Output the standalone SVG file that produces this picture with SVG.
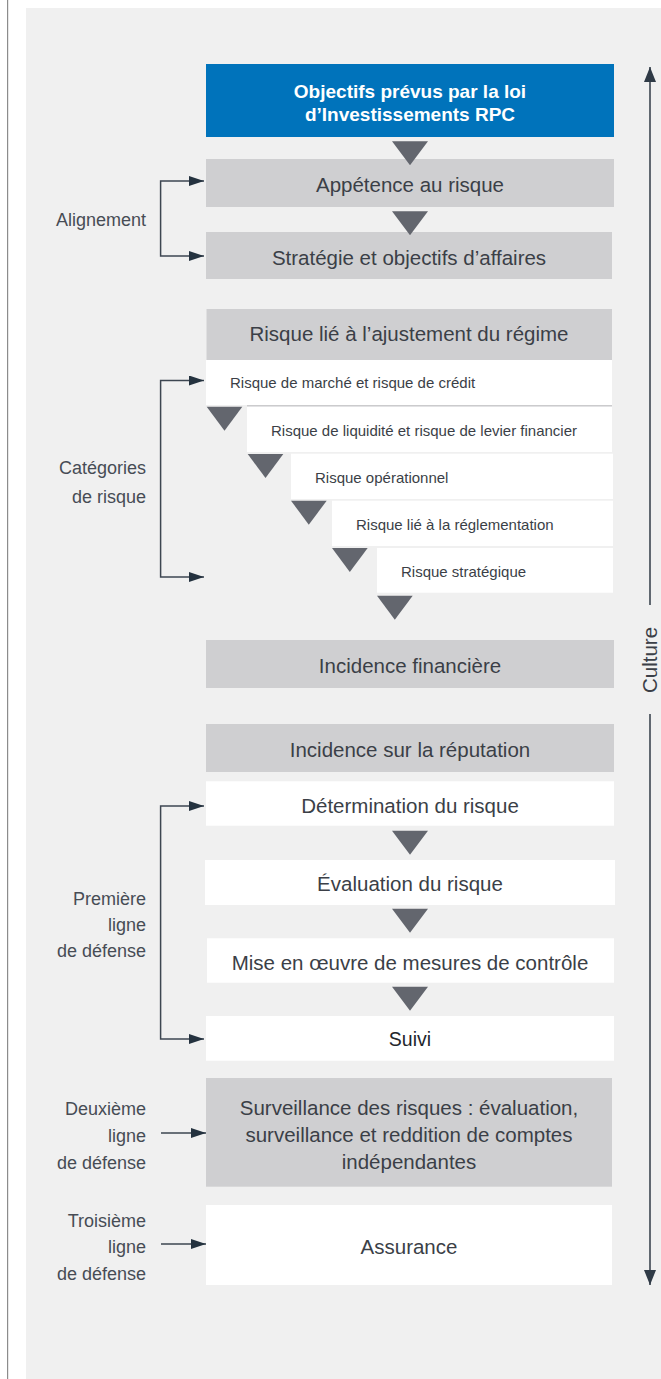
<svg xmlns="http://www.w3.org/2000/svg" width="661" height="1379" viewBox="0 0 661 1379">
<style>
.bg{fill:#f0f0f0}
.box-blue{fill:#0073bb}
.box-gray{fill:#cfcfd1}
.box-white{fill:#ffffff}
.t{font-family:"Liberation Sans",Arial,sans-serif;fill:#3b3f47}
.tb{font-size:20.5px;text-anchor:middle}
.ts{font-size:15px}
.tw{font-family:"Liberation Sans",Arial,sans-serif;font-size:19px;font-weight:bold;fill:#ffffff;text-anchor:middle}
.lab{font-family:"Liberation Sans",Arial,sans-serif;font-size:18px;fill:#474c55;text-anchor:end}
.br{fill:none;stroke:#3d4651;stroke-width:1.5}
.ax{fill:none;stroke:#3d4651;stroke-width:1.6}
.tri{fill:#63666e}
</style>
<defs>
<marker id="ah" markerUnits="userSpaceOnUse" viewBox="0 0 15 10" refX="15" refY="5" markerWidth="15" markerHeight="10" orient="auto-start-reverse">
<path d="M0,0 L15,5 L0,10 Z" fill="#24323f"/>
</marker>
<marker id="ax" markerUnits="userSpaceOnUse" viewBox="0 0 15 12" refX="15" refY="6" markerWidth="15" markerHeight="12" orient="auto">
<path d="M0,0 L15,6 L0,12 Z" fill="#2f3a46"/>
</marker>
</defs>

<line x1="7.6" y1="0" x2="7.6" y2="1379" stroke="#8c8c8c" stroke-width="1.2"/>
<rect class="bg" x="26" y="8" width="635" height="1371"/>

<g id="n-objectifs">
<rect class="box-blue" x="206" y="64" width="408" height="73"/>
<text class="tw" x="410" y="98">Objectifs prévus par la loi</text>
<text class="tw" x="410" y="121">d’Investissements RPC</text>
</g>
<g id="n-appetence">
<rect class="box-gray" x="206" y="159" width="408" height="48"/>
<text class="t tb" x="410" y="192">Appétence au risque</text>
</g>
<g id="n-strategie">
<rect class="box-gray" x="206" y="232" width="406" height="47"/>
<text class="t tb" x="409" y="265">Stratégie et objectifs d’affaires</text>
</g>
<g id="n-ajustement">
<rect class="box-gray" x="206.5" y="309" width="405.5" height="51"/>
<text class="t tb" x="409" y="341">Risque lié à l’ajustement du régime</text>
</g>
<g id="n-marche">
<rect class="box-white" x="206" y="360" width="406" height="45"/>
<text class="t ts" x="230" y="388">Risque de marché et risque de crédit</text>
</g>
<g id="n-liquidite">
<rect x="247" y="405" width="365" height="1.7" fill="#cbcbcd"/>
<rect class="box-white" x="247" y="406.7" width="365" height="45.3"/>
<text class="t ts" x="271" y="436">Risque de liquidité et risque de levier financier</text>
</g>
<g id="n-operationnel">
<rect class="box-white" x="291" y="453.7" width="322" height="45.3"/>
<text class="t ts" x="315" y="482.5">Risque opérationnel</text>
</g>
<g id="n-reglementation">
<rect class="box-white" x="332" y="500.7" width="281" height="45.3"/>
<text class="t ts" x="356" y="530">Risque lié à la réglementation</text>
</g>
<g id="n-strategique">
<rect class="box-white" x="377" y="548" width="236" height="44.7"/>
<text class="t ts" x="401" y="577">Risque stratégique</text>
</g>
<g id="n-incidence-financiere">
<rect class="box-gray" x="206" y="640" width="408" height="48"/>
<text class="t tb" x="410" y="672.5">Incidence financière</text>
</g>
<g id="n-reputation">
<rect class="box-gray" x="206" y="724" width="408" height="48"/>
<text class="t tb" x="410" y="756.5">Incidence sur la réputation</text>
</g>
<g id="n-determination">
<rect class="box-white" x="206" y="781.3" width="408" height="44.4"/>
<text class="t tb" x="410" y="812.5">Détermination du risque</text>
</g>
<g id="n-evaluation">
<rect class="box-white" x="205" y="860" width="410" height="45"/>
<text class="t tb" x="410" y="891">Évaluation du risque</text>
</g>
<g id="n-controle">
<rect class="box-white" x="207" y="938.3" width="407" height="44.4"/>
<text class="t tb" x="410" y="969.5">Mise en œuvre de mesures de contrôle</text>
</g>
<g id="n-suivi">
<rect class="box-white" x="206" y="1016" width="408" height="44.7"/>
<text class="t tb" x="410" y="1046" style="fill:#23262c;font-size:19.5px">Suivi</text>
</g>
<g id="n-surveillance">
<rect class="box-gray" x="206" y="1078" width="406" height="108.7"/>
<text class="t tb" x="409" y="1115">Surveillance des risques : évaluation,</text>
<text class="t tb" x="409" y="1142">surveillance et reddition de comptes</text>
<text class="t tb" x="409" y="1169">indépendantes</text>
</g>
<g id="n-assurance">
<rect class="box-white" x="206" y="1205" width="406" height="80"/>
<text class="t tb" x="409" y="1254">Assurance</text>
</g>

<g id="labels">
<text class="lab" x="146" y="226">Alignement</text>
<text class="lab" x="146" y="474">Catégories</text>
<text class="lab" x="146" y="503">de risque</text>
<text class="lab" x="146" y="904.5">Première</text>
<text class="lab" x="146" y="931">ligne</text>
<text class="lab" x="146" y="957">de défense</text>
<text class="lab" x="146" y="1115">Deuxième</text>
<text class="lab" x="146" y="1141.5">ligne</text>
<text class="lab" x="146" y="1168.5">de défense</text>
<text class="lab" x="146" y="1226.5">Troisième</text>
<text class="lab" x="146" y="1253">ligne</text>
<text class="lab" x="146" y="1279.5">de défense</text>
<text class="t" x="657" y="660" transform="rotate(-90 657 660)" style="font-size:20.5px;text-anchor:middle">Culture</text>
</g>

<g id="connectors">
<path class="br" d="M204,181 H160.6 V256 H204" marker-start="url(#ah)" marker-end="url(#ah)"/>
<path class="br" d="M204,380.5 H160.6 V577 H204" marker-start="url(#ah)" marker-end="url(#ah)"/>
<path class="br" d="M204,806 H160.6 V1039 H204" marker-start="url(#ah)" marker-end="url(#ah)"/>
<path class="br" d="M161,1133 H206" marker-end="url(#ah)"/>
<path class="br" d="M161,1244 H206" marker-end="url(#ah)"/>
<path class="ax" d="M650,605 V67" marker-end="url(#ax)"/>
<path class="ax" d="M650,714 V1285" marker-end="url(#ax)"/>
<polygon class="tri" points="392,141.3 428,141.3 410,165.3"/>
<polygon class="tri" points="392,211.3 428,211.3 410,235.3"/>
<polygon class="tri" points="206.7,406.7 242.3,406.7 224.5,430.7"/>
<polygon class="tri" points="247.7,454 283.3,454 265.5,478"/>
<polygon class="tri" points="291,500.7 326.7,500.7 308.8,524.7"/>
<polygon class="tri" points="332,548 367.7,548 349.8,572"/>
<polygon class="tri" points="377,595.7 412.7,595.7 394.8,619.7"/>
<polygon class="tri" points="392,830.7 428,830.7 410,854.7"/>
<polygon class="tri" points="392,908.7 428,908.7 410,932.7"/>
<polygon class="tri" points="392,986.7 428,986.7 410,1010.7"/>
</g>
</svg>
